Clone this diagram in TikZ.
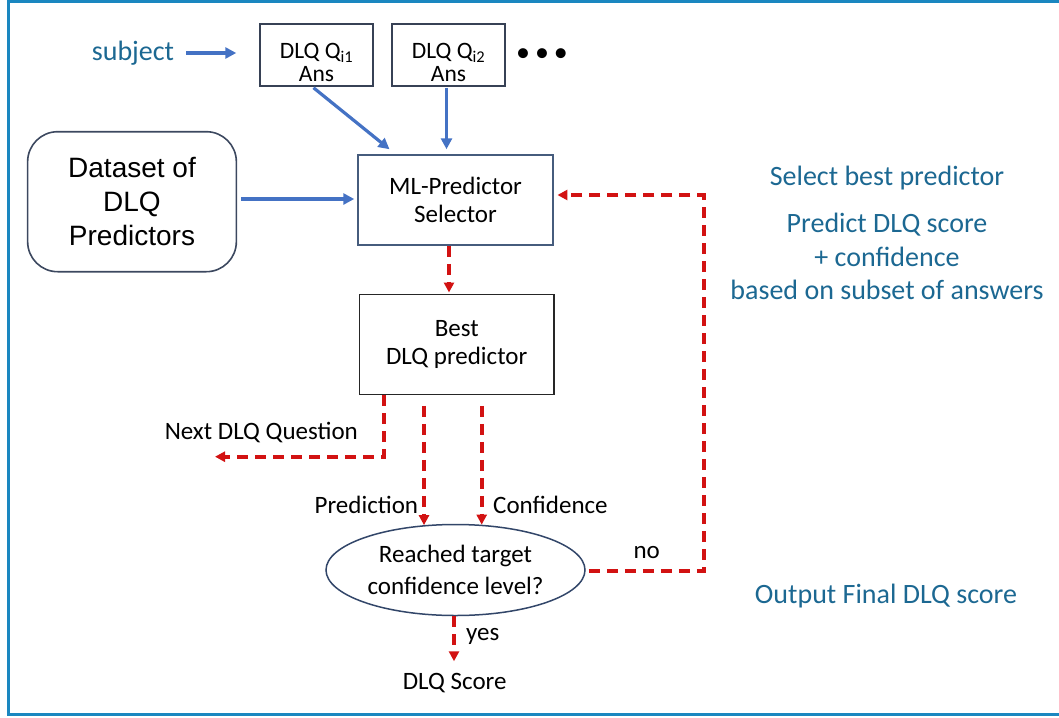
\documentclass[tikz,border=0pt]{standalone}
\usepackage{fontspec}
\setmainfont{Carlito}
\newfontfamily\arialf{Liberation Sans}
\usetikzlibrary{arrows.meta,calc,shapes.geometric}
\definecolor{frameblue}{RGB}{26,135,192}
\definecolor{tealtxt}{RGB}{28,104,146}
\definecolor{arrowblue}{RGB}{68,114,196}
\definecolor{dashred}{RGB}{210,18,18}
\definecolor{qedge}{RGB}{55,65,85}
\definecolor{mledge}{RGB}{70,92,125}
\definecolor{dsedge}{RGB}{60,72,95}
\definecolor{elledge}{RGB}{50,70,105}
\begin{document}
\begin{tikzpicture}[x=1pt,y=-1pt,
  bluearr/.style={draw=arrowblue, line width=3.2pt, -{Triangle[length=11pt,width=11pt]}},
  redarr/.style={draw=dashred, line width=4pt, dash pattern=on 11pt off 7pt, -{Triangle[length=10pt,width=10pt]}},
  qbox/.style={draw=qedge, line width=1.5pt, minimum width=113pt, minimum height=62pt, inner sep=0pt, align=center, font=\fontsize{23.5}{23}\selectfont},
  mlbox/.style={draw=mledge, line width=1.5pt, minimum width=195pt, minimum height=90pt, inner sep=0pt, align=center, font=\fontsize{25}{27.5}\selectfont},
  bestbox/.style={draw=black!85, line width=1.6pt, minimum width=194.7pt, minimum height=100pt, inner sep=0pt, align=center, font=\fontsize{25}{28.5}\selectfont},
  dsbox/.style={draw=dsedge, line width=1.6pt, rounded corners=30pt, minimum width=208.7pt, minimum height=140pt, inner sep=0pt, align=center, font=\arialf\fontsize{28}{34}\selectfont},
  decision/.style={ellipse, draw=elledge, line width=1.5pt, minimum width=259pt, minimum height=91pt, inner sep=0pt, align=center, font=\fontsize{25}{32}\selectfont},
  lbl/.style={inner sep=0pt, font=\fontsize{25}{29}\selectfont, text=black},
  tealnote/.style={inner sep=0pt, align=center, text=tealtxt, font=\fontsize{28}{33.5}\selectfont}
]
\useasboundingbox (0,0) rectangle (1059,717);
% frame
\draw[frameblue, line width=3pt] (1059,1.2) -- (8.2,1.2) -- (8.2,714.7) -- (1059,714.7);

% nodes
\node[tealnote] (subj) at (133,53) {subject};
\node[qbox] (q1) at (316.5,55) {\rule{0pt}{31pt}DLQ Q\textsubscript{i1}\\Ans};
\node[qbox] (q2) at (448.5,55) {\rule{0pt}{31pt}DLQ Q\textsubscript{i2}\\Ans};
\node[inner sep=0pt, font=\fontsize{28}{28}\selectfont] (dots) at (542,55) {•\hspace{5pt}•\hspace{5pt}•};
\node[dsbox] (ds) at (132,201.7) {Dataset of\\DLQ\\Predictors};
\node[mlbox] (ml) at (455.5,200) {ML-Predictor\\Selector};
\node[bestbox] (best) at (456.7,344.3) {Best\\DLQ predictor};
\node[decision] (ell) at (455.5,570) {Reached target\\confidence level?};

\node[tealnote] (sel) at (887,178.3) {Select best predictor};
\node[tealnote] (pred) at (887,256.7) {Predict DLQ score\\+ confidence\\based on subset of answers};
\node[tealnote] (outp) at (886,596) {Output Final DLQ score};

\node[lbl] (nextq) at (261.3,432.7) {Next DLQ Question};
\node[lbl, anchor=east] (predl) at (418.3,505) {Prediction};
\node[lbl, anchor=west] (confl) at (493,505) {Confidence};
\node[lbl] (nol) at (646.7,553) {no};
\node[lbl] (yesl) at (482.7,636.7) {yes};
\node[lbl] (score) at (454.7,683.3) {DLQ Score};
\coordinate (nextend) at (215,456.7);

% blue connectors
\draw[bluearr] ($(subj.east)+(12,0)$) -- ($(q1.west)+(-23,-2)$);
\draw[bluearr] ($(q1.south)+(-3,1)$) -- ($(ml.north)+(-66,-5)$);
\draw[bluearr] ($(q2.south)+(-2,1)$) -- ($(q2.south |- ml.north)+(-2,-5)$);
\draw[bluearr] ($(ds.east)+(4,-2.7)$) -- ($(ml.west)+(-3,-1)$);

% red dashed connectors
\draw[redarr] ($(ml.south)+(-6.5,0)$) -- ($(best.north)+(-7.7,-1)$);
\draw[redarr] ($(best.south west)+(25.7,0)$) |- (nextend);
\draw[redarr] ($(best.south)+(-32.7,10.7)$) -- ($(ell.north)+(-31.5,1.4)$);
\draw[redarr] ($(best.south)+(25,10.7)$) -- ($(ell.north)+(26.2,0.9)$);
\draw[redarr] ($(ell.east)+(3,0.7)$) -- ++(115,0) |- ($(ml.east)+(3.7,-5)$);
\draw[redarr] ($(ell.south)+(-1.5,0)$) -- ($(ell.south)+(-1.5,45)$);
\end{tikzpicture}
\end{document}
